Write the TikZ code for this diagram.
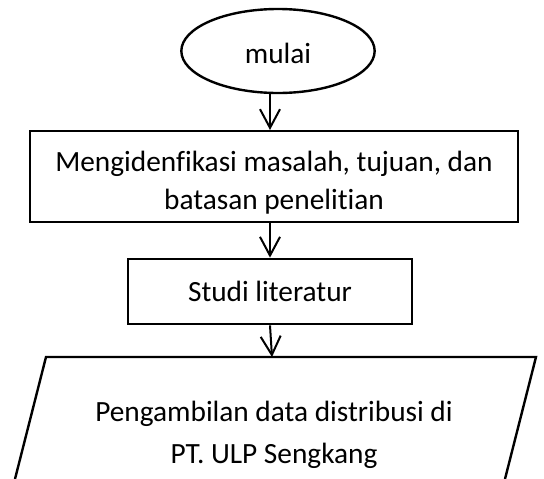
\documentclass[tikz,border=0pt]{standalone}
\usepackage{fontspec}
\setmainfont{Carlito}[Ligatures={NoCommon}]
\usetikzlibrary{shapes.geometric,arrows.meta}

\begin{document}
\begin{tikzpicture}[x=0.75pt,y=0.75pt,yscale=-1,xscale=1,
    every node/.style={font=\fontsize{22}{28.5}\selectfont},
    terminal/.style={draw,ellipse,line width=1.8pt,minimum width=145pt,minimum height=63pt},
    process/.style={draw,rectangle,line width=1.8pt,align=center},
    flow/.style={line width=1.5pt,-{Straight Barb[length=14pt,width=15pt,line width=1.5pt]}}]
				\useasboundingbox (0,0) rectangle (544,479);

				%Ellipse: mulai
				\node [terminal] (mulai) at (278,51) {\rule{0pt}{19pt}mulai};
				%Rectangle: identifikasi
				\node [process,minimum width=366pt,minimum height=68pt] (identifikasi) at (274,176.5)
				    {\rule{0pt}{25pt}Mengidenfikasi masalah, tujuan, dan\\batasan penelitian};
				%Rectangle: studi
				\node [process,minimum width=213pt,minimum height=49pt] (studi) at (270,291.5) {Studi literatur};

				%Parallelogram: data (cut off at bottom)
				\draw [line width=1.8pt] (15,479) -- (46,357) -- (536,357) -- (505,479) ;
				\coordinate (dataTop) at (272,357);
				% Text Node
				\node [align=center,font=\fontsize{22}{31.5}\selectfont] (data) at (274,435)
				    {Pengambilan data distribusi di\\PT. ULP Sengkang};

				%Straight Lines
				\draw [flow] (mulai.south -| studi) -- (identifikasi.north -| studi) ;
				\draw [flow] (identifikasi.south -| studi) -- (studi.north) ;
				\draw [flow] (studi.south) -- (dataTop) ;

\end{tikzpicture}
\end{document}
